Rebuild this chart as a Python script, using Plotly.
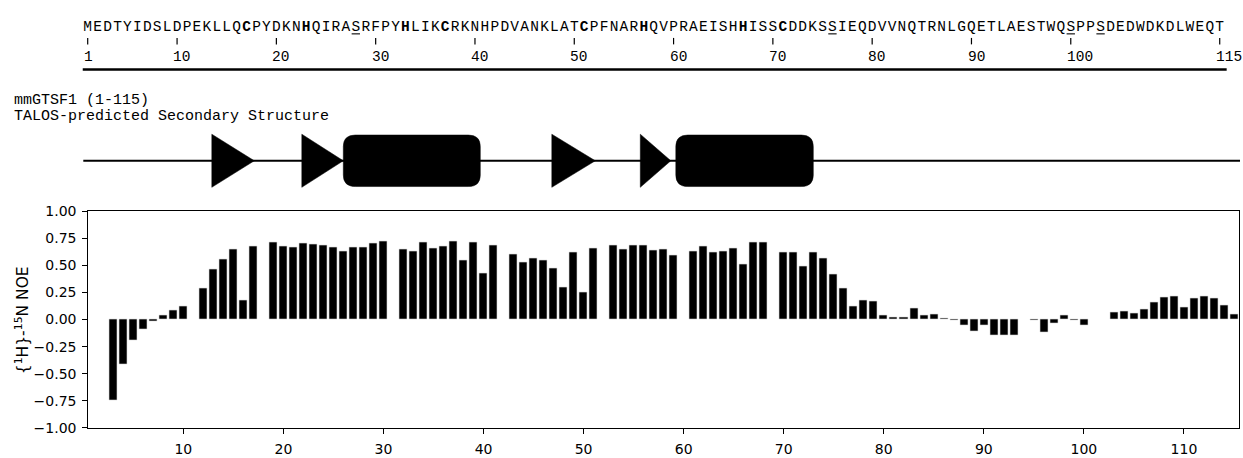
import plotly.graph_objects as go

# ---------------- data ----------------
SEQUENCE = ("MEDTYIDSLDPEKLLQCPYDKNHQIRASRFPYHLIKCRKNHPDVANKLATCPFNARHQVPRAEISH"
            "HISSCDDKSSIEQDVVNQTRNLGQETLAESTWQSPPSDEDWDKDLWEQT")
BOLD_RESIDUES = [17, 23, 33, 37, 51, 57, 67, 71]
UNDERLINED_RESIDUES = [28, 76, 100, 103]
RULER_LABELS = [1, 10, 20, 30, 40, 50, 60, 70, 80, 90, 100, 115]

RESIDUES = list(range(1, 116))
NOE = [
    None, None, -0.75, -0.41, -0.19, -0.09, -0.02, 0.035, 0.085, 0.125,       # 1-10
    None, 0.29, 0.46, 0.555, 0.645, 0.175, 0.675, None, 0.715, 0.68,          # 11-20
    0.665, 0.705, 0.695, 0.69, 0.67, 0.635, 0.67, 0.67, 0.70, 0.725,          # 21-30
    None, 0.65, 0.635, 0.715, 0.66, 0.68, 0.72, 0.545, 0.71, 0.425,           # 31-40
    0.69, None, 0.60, 0.53, 0.57, 0.545, 0.475, 0.295, 0.625, 0.25,           # 41-50
    0.66, None, 0.685, 0.65, 0.685, 0.69, 0.64, 0.65, 0.59, None,             # 51-60
    0.635, 0.68, 0.62, 0.635, 0.66, 0.51, 0.715, 0.71, None, 0.62,            # 61-70
    0.62, 0.495, 0.625, 0.57, 0.415, 0.29, 0.125, 0.175, 0.165, 0.04,         # 71-80
    0.02, 0.02, 0.10, 0.04, 0.045, 0.015, -0.005, -0.05, -0.105, -0.05,       # 81-90
    -0.145, -0.15, -0.145, None, -0.01, -0.12, -0.035, 0.04, -0.005, -0.055,  # 91-100
    None, None, 0.065, 0.075, 0.06, 0.09, 0.155, 0.21, 0.215, 0.115,          # 101-110
    0.20, 0.215, 0.195, 0.13, 0.05,                                           # 111-115
]

# TALOS secondary structure elements (residue coordinates)
CHAIN_SPAN = (0.0, 115.67)
STRANDS = [(12.85, 17.1), (21.85, 26.0), (46.85, 51.2), (55.7, 58.75)]
HELICES = [(26.0, 39.7), (59.25, 73.0)]

Y_TICKS = [-1.0, -0.75, -0.5, -0.25, 0.0, 0.25, 0.5, 0.75, 1.0]
X_TICKS = [10, 20, 30, 40, 50, 60, 70, 80, 90, 100, 110]

# ---------------- layout constants ----------------
W, H = 1243, 458
MONO = "Liberation Mono, Courier New, monospace"
SANS = "DejaVu Sans, sans-serif"
SEQ_FONT = 14.5
CAPTION_FONT = 15
CHAR_PITCH = 9.93          # px per sequence column
SEQ_COL1_CENTER = 87.7     # px, centre of column 1
RES_PX = 10.0              # px per residue in the NOE plot
RES_ZERO_PX = 83.3         # px position of residue 0

fig = go.Figure()

# NOE bars
fig.add_trace(go.Bar(
    x=RESIDUES, y=NOE, width=0.8,
    marker=dict(color="black", line=dict(color="#d8d8d8", width=0.6)),
    xaxis="x", yaxis="y", showlegend=False, hoverinfo="x+y",
))

# ---- sequence ruler (x2: sequence columns, y2: pixel rows) ----
seq_text = [f"<b>{aa}</b>" if i in BOLD_RESIDUES else aa
            for i, aa in enumerate(SEQUENCE, start=1)]

fig.add_trace(go.Scatter(
    x=RESIDUES, y=[20.4] * len(RESIDUES), mode="text", text=seq_text,
    textposition="middle center",
    textfont=dict(family=MONO, size=SEQ_FONT, color="black"),
    xaxis="x2", yaxis="y2", showlegend=False, hoverinfo="skip",
))

# underlines beneath selected residues
ul_x, ul_y = [], []
for n in UNDERLINED_RESIDUES:
    ul_x += [n - 0.42, n + 0.42, None]
    ul_y += [26.8, 26.8, None]
fig.add_trace(go.Scatter(
    x=ul_x, y=ul_y, mode="lines", line=dict(color="black", width=1.1),
    xaxis="x2", yaxis="y2", showlegend=False, hoverinfo="skip",
))

tick_x, tick_y = [], []
for n in RULER_LABELS:
    tick_x += [n, n, None]
    tick_y += [31.0, 37.7, None]
fig.add_trace(go.Scatter(
    x=tick_x, y=tick_y, mode="lines", line=dict(color="black", width=1.2),
    xaxis="x2", yaxis="y2", showlegend=False, hoverinfo="skip",
))

annotations = []
for n in RULER_LABELS:
    annotations.append(dict(
        x=n - 0.5, y=51.1, xref="x2", yref="y2", text=str(n), showarrow=False,
        xanchor="left", yanchor="middle", borderpad=0,
        font=dict(family=MONO, size=SEQ_FONT, color="black"),
    ))

shapes = [dict(type="line", xref="x2", yref="y2", x0=0.5, x1=115.7, y0=63.8, y1=63.8,
               line=dict(color="black", width=2.6))]

# ---- secondary structure track (x3: residues, y2: pixel rows) ----
TRACK_MID, TRI_HALF, RECT_HALF, CORNER = 158.3, 27.5, 26.7, 12.0

fig.add_trace(go.Scatter(
    x=list(CHAIN_SPAN), y=[TRACK_MID, TRACK_MID], mode="lines",
    line=dict(color="black", width=2.2),
    xaxis="x3", yaxis="y2", showlegend=False, hoverinfo="skip",
))
for s, e in STRANDS:
    fig.add_trace(go.Scatter(
        x=[s, e, s, s], y=[TRACK_MID - TRI_HALF, TRACK_MID, TRACK_MID + TRI_HALF, TRACK_MID - TRI_HALF],
        mode="lines", fill="toself", fillcolor="black", line=dict(color="black", width=0.5),
        xaxis="x3", yaxis="y2", showlegend=False, hoverinfo="skip",
    ))

rx = CORNER / RES_PX
for s, e in HELICES:
    t, b = TRACK_MID - RECT_HALF, TRACK_MID + RECT_HALF
    path = (f"M {s + rx},{t} L {e - rx},{t} Q {e},{t} {e},{t + CORNER} "
            f"L {e},{b - CORNER} Q {e},{b} {e - rx},{b} "
            f"L {s + rx},{b} Q {s},{b} {s},{b - CORNER} "
            f"L {s},{t + CORNER} Q {s},{t} {s + rx},{t} Z")
    shapes.append(dict(type="path", xref="x3", yref="y2", path=path,
                       fillcolor="black", line=dict(color="black", width=0.5)))

# captions
annotations.append(dict(x=12.7 / W, y=96.0, xref="paper", yref="y2", text="mmGTSF1 (1-115)",
                        showarrow=False, xanchor="left", yanchor="middle", borderpad=0,
                        font=dict(family=MONO, size=CAPTION_FONT, color="black")))
annotations.append(dict(x=12.7 / W, y=112.7, xref="paper", yref="y2",
                        text="TALOS-predicted Secondary Structure",
                        showarrow=False, xanchor="left", yanchor="middle", borderpad=0,
                        font=dict(family=MONO, size=CAPTION_FONT, color="black")))

# y-axis title
annotations.append(dict(x=22.5 / W, y=324.0, xref="paper", yref="y2",
                        text="{<sup>1</sup>H}-<sup>15</sup>N NOE", textangle=-90,
                        showarrow=False, xanchor="center", yanchor="middle",
                        font=dict(family=SANS, size=15.5, color="black")))

axis_style = dict(showline=True, linecolor="black", linewidth=1, mirror=True,
                  ticks="outside", ticklen=5, tickwidth=1, tickcolor="black",
                  showgrid=False, zeroline=False,
                  tickfont=dict(family=SANS, size=14, color="black"))

fig.update_layout(
    width=W, height=H,
    margin=dict(l=0, r=0, t=0, b=0, pad=0),
    paper_bgcolor="white", plot_bgcolor="rgba(0,0,0,0)",
    showlegend=False,
    xaxis=dict(domain=[88.3 / W, 1239.0 / W], range=[0.5, 115.5], tickvals=X_TICKS,
               anchor="y", ticklabelstandoff=3, **axis_style),
    yaxis=dict(domain=[1 - 435.0 / H, 1 - 210.7 / H], range=[-1, 1], tickvals=Y_TICKS,
               ticktext=[f"{v:.2f}".replace("-", "\u2212") for v in Y_TICKS],
               anchor="x", ticklabelstandoff=3, **axis_style),
    xaxis2=dict(domain=[0, 1], anchor="y2", visible=False, fixedrange=True,
                range=[1 - SEQ_COL1_CENTER / CHAR_PITCH, 1 + (W - SEQ_COL1_CENTER) / CHAR_PITCH]),
    yaxis2=dict(domain=[0, 1], anchor="x2", visible=False, fixedrange=True, range=[H, 0]),
    xaxis3=dict(domain=[0, 1], anchor="y2", visible=False, fixedrange=True,
                range=[-RES_ZERO_PX / RES_PX, (W - RES_ZERO_PX) / RES_PX]),
    shapes=shapes,
    annotations=annotations,
    bargap=0,
)

fig.write_html("out.html")
